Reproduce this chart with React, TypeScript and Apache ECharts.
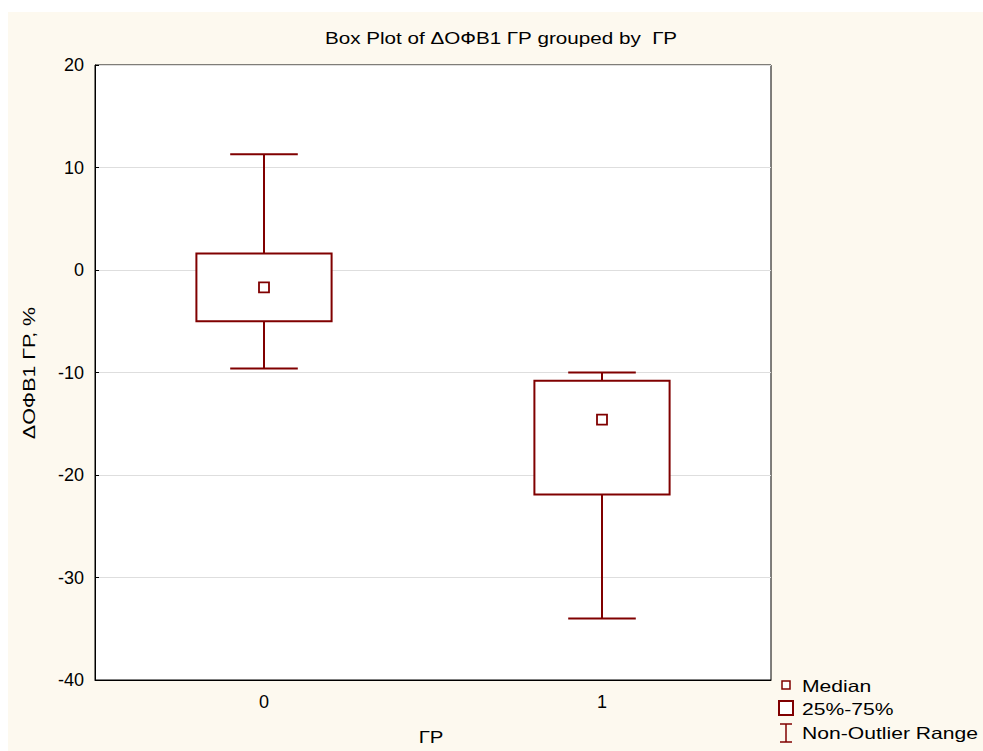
import React, { useEffect, useRef } from "react";
import * as echarts from "echarts";

const categories = ["0", "1"];
// [min, Q1, median, Q3, max] for each group
const whiskerLow = [-9.6, -34.0];
const quartile1 = [-5.0, -21.9];
const medians = [-1.7, -14.6];
const quartile3 = [1.6, -10.8];
const whiskerHigh = [11.3, -10.0];
const yTicks = { min: -40, max: 20, interval: 10 };
const titleText = "Box Plot of \u0394\u041e\u0424\u04121 \u0413\u0420 grouped by  \u0413\u0420";
const yName = "\u0394\u041e\u0424\u04121 \u0413\u0420, %";
const xName = "\u0413\u0420";
const legendLabels = ["Median", "25%-75%", "Non-Outlier Range"];

const RED = "#800000";
const FONT = "Liberation Sans, Arial, sans-serif";
const OX = 8;
const OY = 12;

export default function App() {
  const ref = useRef<HTMLDivElement>(null);
  useEffect(() => {
    if (!ref.current) return;
    const chart = echarts.init(ref.current, null, { renderer: "svg" });
    const data = categories.map((_, i) => [
      i,
      whiskerLow[i],
      quartile1[i],
      medians[i],
      quartile3[i],
      whiskerHigh[i],
    ]);
    const lx = 786 - OX;
    chart.setOption({
      animation: false,
      backgroundColor: "transparent",
      textStyle: { fontFamily: FONT },
      grid: {
        left: 95 - OX,
        top: 65 - OY,
        right: 983 - 771,
        bottom: 751 - 680,
        show: true,
        backgroundColor: "#ffffff",
        borderColor: "#000000",
        borderWidth: 1,
      },
      xAxis: {
        type: "category",
        data: categories,
        boundaryGap: true,
        axisLine: { onZero: false, lineStyle: { color: "#000", width: 1 } },
        axisTick: { inside: true, alignWithLabel: true, length: 4, lineStyle: { color: "#000" } },
        axisLabel: { fontSize: 18, color: "#000", margin: 13, fontFamily: FONT },
        splitLine: { show: false },
      },
      yAxis: {
        type: "value",
        min: yTicks.min,
        max: yTicks.max,
        interval: yTicks.interval,
        axisLine: { show: true, lineStyle: { color: "#000", width: 1 } },
        axisTick: { show: true, inside: true, length: 4, lineStyle: { color: "#000" } },
        axisLabel: { fontSize: 18, color: "#000", margin: 11, fontFamily: FONT },
        splitLine: { show: true, lineStyle: { color: "#dedede", width: 1 } },
      },
      series: [
        {
          type: "custom",
          data,
          encode: { x: 0, y: [1, 2, 3, 4, 5] },
          renderItem: (params: any, api: any) => {
            const x = api.value(0);
            const band = api.size([1, 0])[0];
            const bw = band * 0.4;
            const cw = band * 0.2;
            const pLow = api.coord([x, api.value(1)]);
            const pQ1 = api.coord([x, api.value(2)]);
            const pMed = api.coord([x, api.value(3)]);
            const pQ3 = api.coord([x, api.value(4)]);
            const pHigh = api.coord([x, api.value(5)]);
            const cx = pMed[0];
            const ls = { stroke: RED, lineWidth: 2, fill: null };
            return {
              type: "group",
              children: [
                { type: "line", shape: { x1: cx, y1: pHigh[1], x2: cx, y2: pQ3[1] }, style: ls },
                { type: "line", shape: { x1: cx, y1: pQ1[1], x2: cx, y2: pLow[1] }, style: ls },
                { type: "line", shape: { x1: cx - cw / 2, y1: pHigh[1], x2: cx + cw / 2, y2: pHigh[1] }, style: ls },
                { type: "line", shape: { x1: cx - cw / 2, y1: pLow[1], x2: cx + cw / 2, y2: pLow[1] }, style: ls },
                {
                  type: "rect",
                  shape: { x: cx - bw / 2, y: pQ3[1], width: bw, height: pQ1[1] - pQ3[1] },
                  style: { stroke: RED, lineWidth: 2, fill: "#ffffff" },
                },
                {
                  type: "rect",
                  shape: { x: cx - 5, y: pMed[1] - 5, width: 10, height: 10 },
                  style: { stroke: RED, lineWidth: 1.8, fill: "#ffffff" },
                },
              ],
            };
          },
        },
      ],
      graphic: [
        {
          type: "text",
          x: 501 - OX,
          y: 38 - OY,
          scaleX: 1.29,
          style: { text: titleText, fontSize: 16, fill: "#000", fontFamily: FONT, align: "center", verticalAlign: "middle" },
        },
        {
          type: "text",
          x: 29 - OX,
          y: 373 - OY,
          rotation: Math.PI / 2,
          scaleX: 1.3,
          style: { text: yName, fontSize: 16.5, fill: "#000", fontFamily: FONT, align: "center", verticalAlign: "middle" },
        },
        {
          type: "text",
          x: 431 - OX,
          y: 737 - OY,
          scaleX: 1.2,
          style: { text: xName, fontSize: 17, fill: "#000", fontFamily: FONT, align: "center", verticalAlign: "middle" },
        },
        {
          type: "rect",
          shape: { x: 782 - OX, y: 681 - OY, width: 8, height: 8 },
          style: { stroke: RED, lineWidth: 1.5, fill: "#fff" },
        },
        {
          type: "rect",
          shape: { x: 779 - OX, y: 701 - OY, width: 14, height: 14 },
          style: { stroke: RED, lineWidth: 2, fill: "#fff" },
        },
        { type: "line", shape: { x1: lx, y1: 724 - OY, x2: lx, y2: 742 - OY }, style: { stroke: RED, lineWidth: 1.5 } },
        { type: "line", shape: { x1: lx - 6, y1: 724 - OY, x2: lx + 6, y2: 724 - OY }, style: { stroke: RED, lineWidth: 1.5 } },
        { type: "line", shape: { x1: lx - 6, y1: 742 - OY, x2: lx + 6, y2: 742 - OY }, style: { stroke: RED, lineWidth: 1.5 } },
        ...legendLabels.map((t, i) => ({
          type: "text",
          x: 802 - OX,
          y: [686, 709, 733][i] - OY,
          scaleX: 1.28,
          style: { text: t, fontSize: 16.5, fill: "#000", fontFamily: FONT, align: "left", verticalAlign: "middle" },
        })),
      ],
    });
    return () => chart.dispose();
  }, []);
  return (
    <div
      ref={ref}
      style={{ position: "absolute", left: OX, top: OY, width: 975, height: 739, background: "#fdf9ef" }}
    />
  );
}
